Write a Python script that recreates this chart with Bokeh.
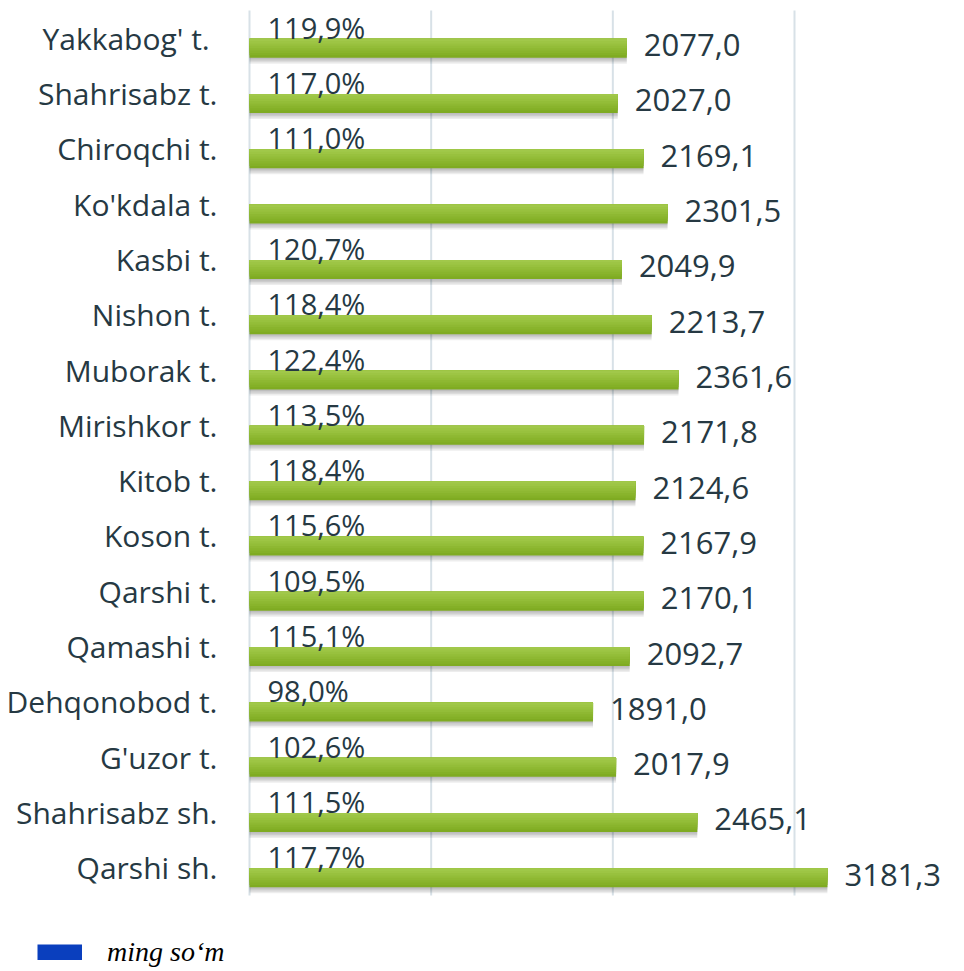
from bokeh.plotting import figure
from bokeh.models import ColumnDataSource, Range1d, Legend, LegendItem
from bokeh.transform import dodge
from bokeh.core.properties import value as V
from bokeh.embed import file_html
from bokeh.resources import INLINE

# ---------------- data ----------------
regions = ["Yakkabog'  t.", "Shahrisabz t.", "Chiroqchi t.", "Ko'kdala t.",
           "Kasbi t.", "Nishon t.", "Muborak t.", "Mirishkor t.", "Kitob t.",
           "Koson t.", "Qarshi t.", "Qamashi t.", "Dehqonobod t.", "G'uzor t.",
           "Shahrisabz sh.", "Qarshi sh."]
values = [2077.0, 2027.0, 2169.1, 2301.5, 2049.9, 2213.7, 2361.6, 2171.8,
          2124.6, 2167.9, 2170.1, 2092.7, 1891.0, 2017.9, 2465.1, 3181.3]
percents = [119.9, 117.0, 111.0, None, 120.7, 118.4, 122.4, 113.5,
            118.4, 115.6, 109.5, 115.1, 98.0, 102.6, 111.5, 117.7]
grid_ticks = [0, 1000, 2000, 3000]
legend_label = "ming so\u2018m"

def fmt(v):
    return f"{v:.1f}".replace(".", ",")

ypos = list(range(len(regions)))          # row order, top to bottom
src = ColumnDataSource(dict(
    region=regions, ypos=ypos, value=values,
    vlabel=[fmt(v) for v in values],
))
psrc = ColumnDataSource(dict(
    ypos=[i for i, q in zip(ypos, percents) if q is not None],
    plabel=[fmt(q) + "%" for q in percents if q is not None],
))
gsrc = ColumnDataSource(dict(
    x=grid_ticks,
    y0=[ypos[0] - 0.5] * len(grid_ticks),
    y1=[ypos[-1] + 0.5] * len(grid_ticks),
))

TEXT = "#263943"
FONT = "Open Sans"
W, H = 956, 968
BAND_PX = 55.31          # height of one category row in pixels
PX_PER_UNIT = 0.181667   # pixels per ming so'm unit
LEFT_PX, TOP_PX = 249, 10

x0 = -LEFT_PX / PX_PER_UNIT
y_top = -0.5 - TOP_PX / BAND_PX
p = figure(width=W, height=H, output_backend="svg", toolbar_location=None,
           x_range=Range1d(x0, x0 + W / PX_PER_UNIT),
           y_range=Range1d(y_top + H / BAND_PX, y_top),   # inverted: row 0 on top
           min_border_left=0, min_border_right=0, min_border_top=0,
           min_border_bottom=0)
p.axis.visible = False
p.grid.visible = False
p.outline_line_color = None
p.background_fill_color = "white"
p.border_fill_color = "white"

# vertical grid lines
p.segment(x0="x", x1="x", y0="y0", y1="y1", source=gsrc,
          line_color="#d8e1e7", line_width=2)

# category labels
p.text(x=0, y="ypos", text="region", source=src, x_offset=-32,
       text_align="right", text_baseline="middle",
       text_font=V(FONT), text_font_size="30px", text_color=TEXT)

bar_off = 10.0 / BAND_PX          # bar centre sits 10px below row centre
bar_h = 19.0 / BAND_PX

# shadow layers
for dy in [1.5, 3.0, 4.5, 6.0]:
    p.hbar(y=dodge("ypos", bar_off + dy / BAND_PX), left=0, right="value",
           height=bar_h, source=src, fill_color="black", fill_alpha=0.07,
           line_color=None)

# bar with vertical gradient (dark bottom, lighter toward the top)
grad = ["#7fab22", "#84b027", "#89b42c", "#8eb832", "#93bd38", "#98c13e",
        "#9dc544", "#a1c84a"]
n = len(grad)
top_edge = bar_off - bar_h / 2
for k, col in enumerate(grad):
    h = bar_h * (n - k) / n
    p.hbar(y=dodge("ypos", top_edge + h / 2), left=0, right="value",
           height=h, source=src, fill_color=col, line_color=None)

# value labels at bar ends
p.text(x="value", y="ypos", text="vlabel", source=src,
       x_offset=17, y_offset=7, text_baseline="alphabetic", text_align="left",
       text_font=V(FONT), text_font_size="31px", text_color=TEXT)

# percent labels at bar start
p.text(x=0, y="ypos", text="plabel", source=psrc,
       x_offset=18, y_offset=-11, text_baseline="alphabetic", text_align="left",
       text_font=V(FONT), text_font_size="29px", text_color=TEXT)

# legend
lr = p.line(x=[x0 - 100, x0 - 50], y=[0, 0], line_color="#0a3fbe",
            line_width=16)
legend = Legend(items=[LegendItem(label=legend_label, renderers=[lr])],
                location=(37, 0), glyph_width=45, glyph_height=16,
                label_standoff=25, padding=0, margin=0, spacing=0,
                border_line_color=None, background_fill_alpha=0,
                label_text_font="Liberation Serif",
                label_text_font_style="italic",
                label_text_font_size="28px", label_text_color="black")
p.add_layout(legend)

open("out.html", "w").write(file_html(p, INLINE))
